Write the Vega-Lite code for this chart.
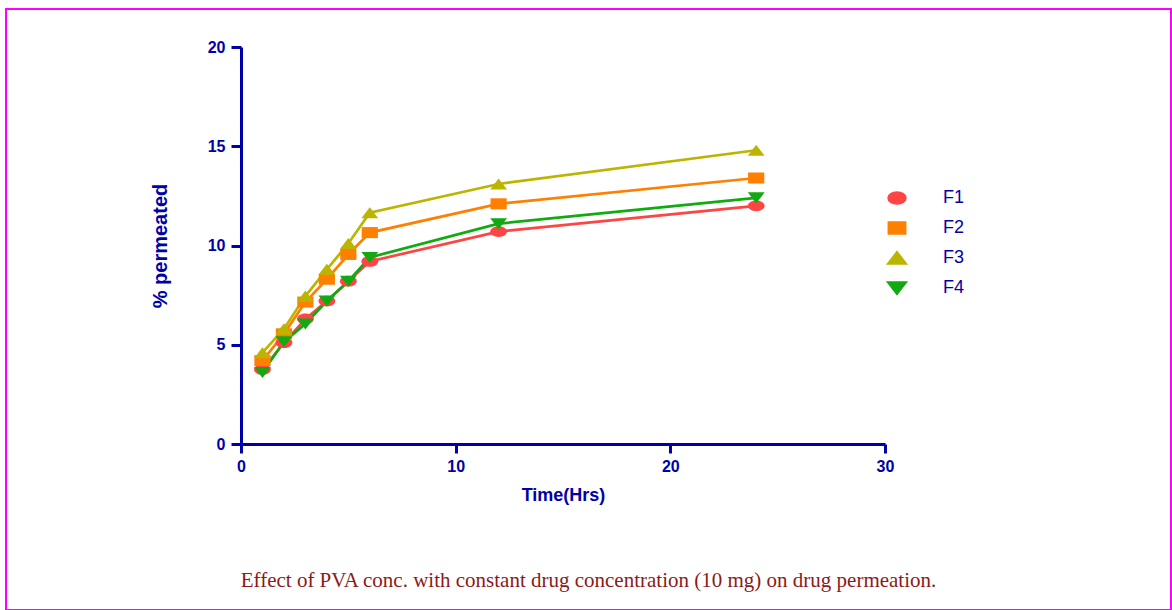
{
  "$schema": "https://vega.github.io/schema/vega-lite/v6.json",
  "autosize": "none",
  "padding": {"left": 6, "top": 9, "right": 1, "bottom": 0},
  "width": 1165,
  "height": 601,
  "background": "white",
  "view": {"stroke": "#FF00FF", "strokeWidth": 2},
  "title": {
    "text": "Effect of PVA conc. with constant drug concentration (10 mg) on drug permeation.",
    "orient": "bottom",
    "anchor": "middle",
    "frame": "group",
    "offset": -40,
    "font": "Liberation Serif",
    "fontSize": 21,
    "fontWeight": "normal",
    "color": "#8B1A1A"
  },
  "data": {
    "values": [
      {"time": 1, "pct": 3.75, "series": "F1"},
      {"time": 2, "pct": 5.1, "series": "F1"},
      {"time": 3, "pct": 6.3, "series": "F1"},
      {"time": 4, "pct": 7.2, "series": "F1"},
      {"time": 5, "pct": 8.2, "series": "F1"},
      {"time": 6, "pct": 9.2, "series": "F1"},
      {"time": 12, "pct": 10.7, "series": "F1"},
      {"time": 24, "pct": 12.0, "series": "F1"},
      {"time": 1, "pct": 4.2, "series": "F2"},
      {"time": 2, "pct": 5.55, "series": "F2"},
      {"time": 3, "pct": 7.15, "series": "F2"},
      {"time": 4, "pct": 8.3, "series": "F2"},
      {"time": 5, "pct": 9.55, "series": "F2"},
      {"time": 6, "pct": 10.65, "series": "F2"},
      {"time": 12, "pct": 12.1, "series": "F2"},
      {"time": 24, "pct": 13.4, "series": "F2"},
      {"time": 1, "pct": 4.6, "series": "F3"},
      {"time": 2, "pct": 5.8, "series": "F3"},
      {"time": 3, "pct": 7.45, "series": "F3"},
      {"time": 4, "pct": 8.8, "series": "F3"},
      {"time": 5, "pct": 10.1, "series": "F3"},
      {"time": 6, "pct": 11.65, "series": "F3"},
      {"time": 12, "pct": 13.1, "series": "F3"},
      {"time": 24, "pct": 14.8, "series": "F3"},
      {"time": 1, "pct": 3.6, "series": "F4"},
      {"time": 2, "pct": 5.15, "series": "F4"},
      {"time": 3, "pct": 6.05, "series": "F4"},
      {"time": 4, "pct": 7.2, "series": "F4"},
      {"time": 5, "pct": 8.2, "series": "F4"},
      {"time": 6, "pct": 9.4, "series": "F4"},
      {"time": 12, "pct": 11.1, "series": "F4"},
      {"time": 24, "pct": 12.4, "series": "F4"}
    ]
  },
  "encoding": {
    "x": {
      "field": "time",
      "type": "quantitative",
      "scale": {"domain": [0, 30], "range": [235, 879], "nice": false, "zero": false},
      "axis": {
        "values": [0, 10, 20, 30],
        "title": "Time(Hrs)",
        "offset": -166,
        "grid": false,
        "labelFlush": false,
        "domainColor": "#0000AA",
        "domainWidth": 3,
        "tickColor": "#0000AA",
        "tickWidth": 3,
        "tickSize": 9,
        "labelFont": "Liberation Sans",
        "labelFontSize": 16,
        "labelFontWeight": "bold",
        "labelColor": "#0000AA",
        "labelPadding": 5,
        "titleFont": "Liberation Sans",
        "titleFontSize": 18,
        "titleFontWeight": "bold",
        "titleColor": "#0000AA",
        "titlePadding": 12
      }
    },
    "y": {
      "field": "pct",
      "type": "quantitative",
      "scale": {"domain": [0, 20], "range": [435, 38], "nice": false},
      "axis": {
        "values": [0, 5, 10, 15, 20],
        "title": "% permeated",
        "offset": -235,
        "grid": false,
        "domainColor": "#0000AA",
        "domainWidth": 3,
        "tickColor": "#0000AA",
        "tickWidth": 3,
        "tickSize": 10,
        "labelFont": "Liberation Sans",
        "labelFontSize": 16,
        "labelFontWeight": "bold",
        "labelColor": "#0000AA",
        "labelPadding": 6,
        "titleFont": "Liberation Sans",
        "titleFontSize": 20,
        "titleFontWeight": "bold",
        "titleColor": "#0000AA",
        "titlePadding": 37
      }
    },
    "color": {
      "field": "series",
      "type": "nominal",
      "scale": {"domain": ["F1", "F2", "F3", "F4"], "range": ["#FF4444", "#FF8000", "#BBB500", "#11AA11"]},
      "legend": {
        "orient": "none",
        "legendX": 882,
        "legendY": 180,
        "title": null,
        "padding": 0,
        "labelFont": "Liberation Sans",
        "labelFontSize": 18,
        "labelColor": "#0000AA",
        "labelOffset": 37,
        "rowPadding": 8,
        "symbolSize": 144,
        "symbolStrokeWidth": 2.7
      }
    }
  },
  "layer": [
    {"mark": {"type": "line", "strokeWidth": 2.7}},
    {
      "mark": {"type": "point", "filled": true, "size": 144, "opacity": 1},
      "encoding": {
        "shape": {
          "field": "series",
          "type": "nominal",
          "scale": {
            "domain": ["F1", "F2", "F3", "F4"],
            "range": [
              "M-1.4,0A1.4,0.9,0,1,0,1.4,0A1.4,0.9,0,1,0,-1.4,0Z",
              "M-1.35,-0.92H1.35V0.92H-1.35Z",
              "M0,-0.92L1.4,0.92H-1.4Z",
              "M0,0.92L1.4,-0.92H-1.4Z"
            ]
          },
          "legend": {
            "orient": "none",
            "legendX": 882,
            "legendY": 180,
            "title": null,
            "padding": 0,
            "labelFont": "Liberation Sans",
            "labelFontSize": 18,
            "labelColor": "#0000AA",
            "labelOffset": 37,
            "rowPadding": 8,
            "symbolSize": 144,
            "symbolStrokeWidth": 2.7
          }
        }
      }
    }
  ]
}
